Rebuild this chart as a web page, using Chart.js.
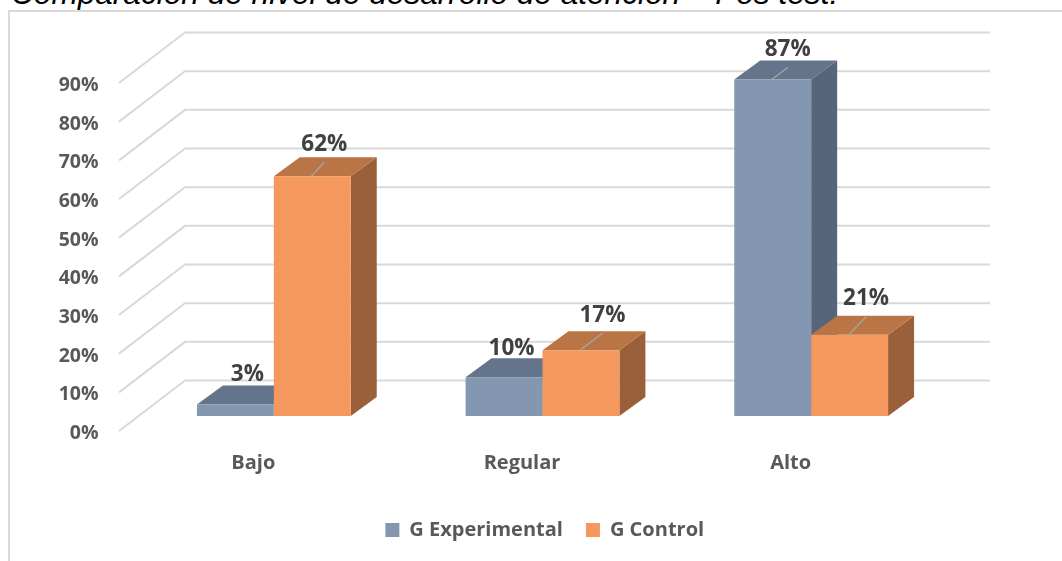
<!DOCTYPE html>
<html><head><meta charset="utf-8">
<style>
html,body{margin:0;padding:0;background:#fff;overflow:hidden}
#wrap{position:relative;width:1062px;height:561px;overflow:hidden}
#title{position:absolute;left:11px;top:-25px;font:italic 31.6px "Liberation Sans",sans-serif;color:#000;white-space:nowrap}
#frame{position:absolute;left:8px;top:10px;width:1070px;height:560px;border:2px solid #d9d9d9;box-sizing:border-box}
canvas{position:absolute;left:0;top:0}
</style></head><body>
<div id="wrap">
<div id="title">Comparación de nivel de desarrollo de atención – Pos test.</div>
<div id="frame"></div>
<canvas id="c" width="1062" height="561"></canvas>
</div>
<script src="https://cdn.jsdelivr.net/npm/chart.js@4"></script>
<script>
const categories = ["Bajo", "Regular", "Alto"];
const gExperimental = [3, 10, 87];
const gControl = [62, 17, 21];
const yTicks = [0, 10, 20, 30, 40, 50, 60, 70, 80, 90];

const look = {
  depthX: 26, depthY: 19,
  wallX0: 119, wallX1: 185, wallX2: 990, wallFront: 15, wallBack: -35.5,
  faces: [
    {top: "#64748a", side: "#56657a"},
    {top: "#b97545", side: "#9a6039"}
  ],
  // label nudges from the bar's top-centre, in [dataset][category] order
  nudge: [
    [[12, -30], [7.5, -29], [15, -30]],
    [[12, -32], [21.5, -35], [16.5, -36]]
  ],
  leader: [[false, false, true], [true, true, true]],
  legendShift: {x: 72, y: -11}
};

const threeD = {
  id: "threeD",
  afterLayout(chart) {
    const lg = chart.legend;
    lg.left += look.legendShift.x; lg.right += look.legendShift.x;
    lg.top += look.legendShift.y; lg.bottom += look.legendShift.y;
  },
  beforeDatasetsDraw(chart) {
    const y = chart.scales.y, ctx = chart.ctx;
    ctx.save();
    ctx.strokeStyle = "#d9d9d9";
    ctx.lineWidth = 2;
    yTicks.forEach(v => {
      const p = y.getPixelForValue(v);
      ctx.beginPath();
      ctx.moveTo(look.wallX0, p + look.wallFront);
      ctx.lineTo(look.wallX1, p + look.wallBack);
      ctx.lineTo(look.wallX2, p + look.wallBack);
      ctx.stroke();
    });
    ctx.restore();
  },
  beforeDatasetDraw() { return false; },
  afterDatasetsDraw(chart) {
    const ctx = chart.ctx, dx = look.depthX, dy = look.depthY;
    chart.data.datasets.forEach((ds, i) => {
      const meta = chart.getDatasetMeta(i);
      meta.data.forEach(bar => {
        const l = bar.x - bar.width / 2, r = bar.x + bar.width / 2;
        const t = bar.y, b = bar.base;
        ctx.fillStyle = look.faces[i].side;
        ctx.beginPath();
        ctx.moveTo(r, t); ctx.lineTo(r + dx, t - dy);
        ctx.lineTo(r + dx, b - dy); ctx.lineTo(r, b);
        ctx.closePath(); ctx.fill();
        ctx.fillStyle = look.faces[i].top;
        ctx.beginPath();
        ctx.moveTo(l, t); ctx.lineTo(l + dx, t - dy);
        ctx.lineTo(r + dx, t - dy); ctx.lineTo(r, t);
        ctx.closePath(); ctx.fill();
        bar.draw(ctx);
      });
    });
    chart.data.datasets.forEach((ds, i) => {
      const meta = chart.getDatasetMeta(i);
      meta.data.forEach((bar, j) => {
        const [nx, ny] = look.nudge[i][j];
        if (look.leader[i][j]) {
          ctx.strokeStyle = "#a6a6a6";
          ctx.lineWidth = 1.3;
          ctx.beginPath();
          ctx.moveTo(bar.x - 1, bar.y);
          ctx.lineTo(bar.x + nx, bar.y + ny + 18);
          ctx.stroke();
        }
        ctx.fillStyle = "#404040";
        ctx.font = 'bold 22.5px "Open Sans"';
        ctx.textAlign = "center";
        ctx.textBaseline = "middle";
        ctx.fillText(ds.data[j] + "%", bar.x + nx, bar.y + ny);
      });
    });
  }
};

new Chart(document.getElementById("c"), {
  type: "bar",
  data: {
    labels: categories,
    datasets: [
      {label: "G Experimental", data: gExperimental, backgroundColor: "#8497b0"},
      {label: "G Control", data: gControl, backgroundColor: "#f4985e"}
    ]
  },
  options: {
    responsive: false,
    animation: false,
    layout: {padding: {top: 68, right: 116.5, bottom: 0, left: 0}},
    categoryPercentage: 0.5725,
    barPercentage: 1,
    scales: {
      x: {
        grid: {display: false},
        border: {display: false},
        afterFit(s) { s.height = 92; },
        ticks: {
          labelOffset: -20.5, padding: 27, maxRotation: 0,
          color: "#595959", font: {family: "Open Sans", weight: "bold", size: 20}
        }
      },
      y: {
        min: 0, max: 90,
        grid: {display: false},
        border: {display: false},
        afterFit(s) { s.width = 139.5; },
        afterBuildTicks(s) { s.ticks = yTicks.map(v => ({value: v})); },
        ticks: {
          labelOffset: 17.5, padding: 33,
          color: "#595959", font: {family: "Open Sans", weight: "bold", size: 19.5},
          callback: v => v + "%"
        }
      }
    },
    plugins: {
      tooltip: {enabled: false},
      legend: {
        position: "bottom",
        labels: {
          boxWidth: 14, boxHeight: 14, padding: 23,
          color: "#595959", font: {family: "Open Sans", weight: "bold", size: 20}
        }
      }
    }
  },
  plugins: [threeD]
});
</script>
</body></html>
